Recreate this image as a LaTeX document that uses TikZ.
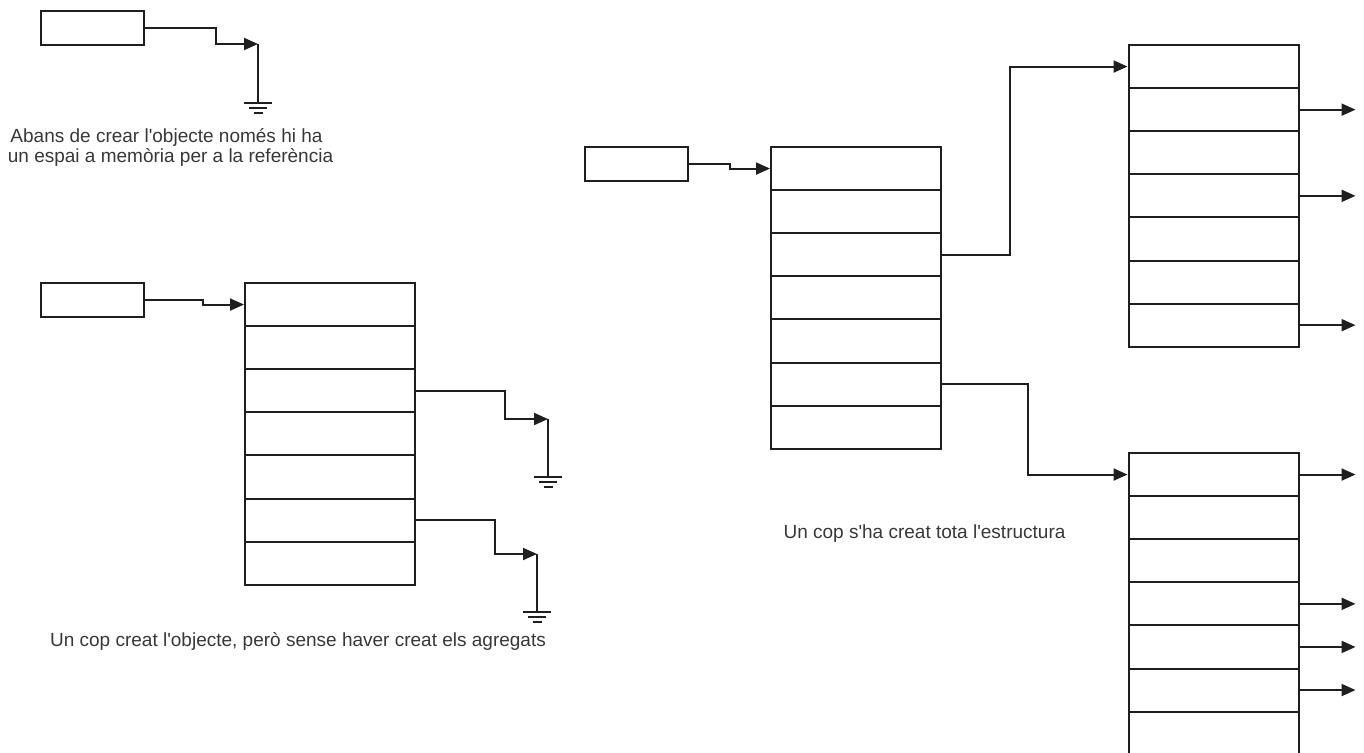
\documentclass[tikz,border=0pt]{standalone}
\usepackage{fontspec}
\setmainfont{Liberation Sans}[Ligatures=TeXOff]
\usetikzlibrary{arrows.meta}
\begin{document}
\begin{tikzpicture}[x=1pt,y=-1pt,
  line/.style={draw=black!88,line width=2pt},
  box/.style={line, rectangle, minimum width=103pt, minimum height=34pt, inner sep=0pt},
  cell/.style={line, rectangle, minimum width=170pt, minimum height=43.1pt, inner sep=0pt},
  conn/.style={line, -{Triangle[length=14pt,width=12pt]}},
  lbl/.style={anchor=base, inner sep=0pt, text=black!78, font=\fontsize{19}{22}\selectfont},
  groundsym/.pic={\draw[line] (-14,0)--(14,0) (-9,5)--(9,5) (-4.5,10)--(4.5,10);}
]
\useasboundingbox (0,0) rectangle (1364,752);
\fill[white] (0,0) rectangle (1364,752);

% ---------- first state ----------
\node[box] (ap) at (92,28) {};
\coordinate (ta) at (258,44);
\coordinate (ga) at (258,103);
\draw[conn] (ap.east) -- ++(71,0) |- (ta);
\draw[line] (ta) -- (ga);
\pic at (ga) {groundsym};
\node[lbl] (t1a) at (166.5,142) {Abans de crear l'objecte només hi ha};
\node[lbl] (t1b) at (170.5,162) {un espai a memòria per a la referència};

% ---------- second state ----------
\node[box] (bp) at (92,300) {};
\foreach \i in {1,...,7} \node[cell] (b\i) at (330,{283+(\i-0.5)*43.1}) {};
\draw[conn] (bp.east) -- ++(58,0) |- (b1.west);
\coordinate (tb3) at (548,419);
\coordinate (gb3) at (548,477);
\draw[conn] (b3.east) -- ++(89,0) |- (tb3);
\draw[line] (tb3) -- (gb3);
\pic at (gb3) {groundsym};
\coordinate (tb6) at (537,554);
\coordinate (gb6) at (537,612);
\draw[conn] (b6.east) -- ++(79,0) |- (tb6);
\draw[line] (tb6) -- (gb6);
\pic at (gb6) {groundsym};
\node[lbl] (t2) at (298,646) {Un cop creat l'objecte, però sense haver creat els agregats};

% ---------- third state ----------
\node[box] (cp) at (636,164) {};
\foreach \i in {1,...,7} \node[cell] (c\i) at (856,{147+(\i-0.5)*43.1}) {};
\foreach \i in {1,...,7} \node[cell] (d\i) at (1213.5,{45+(\i-0.5)*43.1}) {};
\foreach \i in {1,...,7} \node[cell] (e\i) at (1213.5,{453+(\i-0.5)*43.1}) {};
\draw[conn] (cp.east) -- ++(41,0) |- (c1.west);
\draw[conn] (c3.east) -- ++(68,0) |- (d1.west);
\draw[conn] (c6.east) -- ++(86,0) |- (e1.west);
\foreach \r in {2,4,7} \draw[conn] (d\r.east) -- ++(56,0);
\foreach \r in {1,4,5,6} \draw[conn] (e\r.east) -- ++(56,0);
\node[lbl] (t3) at (924.5,538) {Un cop s'ha creat tota l'estructura};
\end{tikzpicture}
\end{document}
